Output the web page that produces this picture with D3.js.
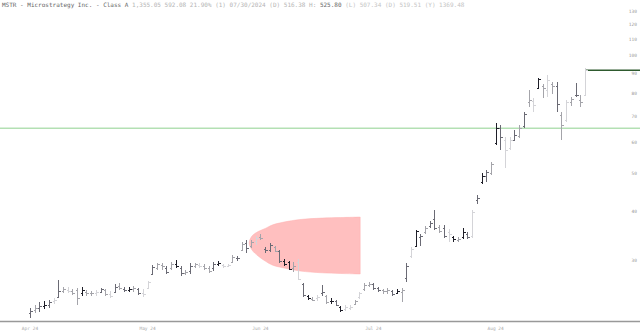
<!doctype html>
<html>
<head>
<meta charset="utf-8">
<style>
  body { margin: 0; background: #fff; }
  svg text { font-family: "DejaVu Sans Mono", monospace; }
</style>
</head>
<body>
<div id="vis"></div>
<script src="https://d3js.org/d3.v7.min.js"></script>
<script>
// OHLC bars, one per session
var opens = [21.97,22.36,22.62,22.88,23.02,23.57,24.13,25.00,25.15,25.00,
  25.15,24.71,24.85,24.71,24.71,24.85,25.15,24.56,24.85,25.75,
  25.30,25.15,25.30,25.30,24.71,25.44,27.63,28.62,29.13,28.62,
  28.62,29.30,28.62,27.79,28.12,28.96,29.13,28.96,28.62,28.62,
  29.30,29.13,28.96,29.65,30.36,31.82,33.16,32.58,33.55,34.34,
  32.01,31.82,32.39,31.64,29.82,29.65,28.62,29.65,26.05,24.28,
  23.85,23.99,24.71,24.28,23.57,23.57,22.75,22.49,22.62,23.16,
  24.13,25.30,25.90,26.05,25.44,25.15,25.00,25.00,24.71,24.85,
  26.99,30.72,32.58,34.34,35.37,36.64,38.18,36.43,36.21,35.37,
  34.34,33.75,34.34,34.96,34.55,42.70,47.47,49.17,50.05,59.71,
  65.20,60.77,57.98,60.77,62.21,65.98,75.99,76.44,82.51,83.48,
  81.55,84.47,83.48,70.39,68.35,75.99,79.19,76.89,79.19];
var highs = [22.62,23.02,23.43,23.57,23.71,23.99,26.67,25.59,25.59,25.30,
  25.44,25.59,25.15,25.00,25.15,25.44,25.30,25.00,26.05,26.20,
  25.59,25.59,25.75,25.44,25.30,26.51,29.13,29.47,29.47,28.96,
  29.65,30.00,28.96,28.29,29.47,29.47,29.47,29.30,28.96,29.65,
  29.82,29.30,29.30,30.90,30.72,33.35,33.75,33.75,34.55,34.96,
  32.39,33.16,32.58,31.82,30.18,29.82,29.65,30.18,26.20,24.42,
  24.13,24.42,25.90,24.42,23.99,23.71,22.88,23.02,23.02,23.71,
  24.85,26.20,26.36,26.20,25.59,25.30,25.44,25.15,25.30,25.44,
  29.47,32.39,35.79,34.96,36.64,37.73,40.26,36.86,36.86,36.00,
  34.55,34.34,36.21,35.37,40.26,43.97,50.05,50.94,53.39,67.17,
  66.37,61.85,61.85,64.45,66.37,71.65,81.55,77.80,87.51,84.47,
  89.07,85.47,85.47,71.65,76.89,78.26,84.97,79.19,92.82];
var lows = [21.33,21.97,22.10,22.49,22.62,23.16,24.13,24.71,24.71,24.42,
  23.02,24.28,24.28,24.28,24.28,24.71,24.28,23.99,24.71,25.15,
  24.85,24.85,24.85,24.42,24.13,25.30,27.63,28.29,28.29,27.63,
  28.29,28.62,27.31,27.47,27.63,28.62,28.62,28.29,27.79,28.12,
  28.96,28.62,28.79,29.47,29.82,31.64,31.27,32.20,32.77,33.75,
  31.27,31.45,31.45,29.47,28.96,28.29,27.96,26.67,24.13,23.71,
  23.57,23.57,24.28,23.16,23.16,22.88,22.10,22.23,22.36,23.02,
  23.85,25.00,25.59,25.15,24.85,24.56,24.56,24.28,24.56,23.43,
  26.36,30.36,32.39,32.58,34.96,36.21,35.79,35.16,34.14,33.35,
  33.35,33.35,33.94,33.94,34.14,41.70,46.91,47.47,49.46,59.01,
  57.30,51.54,57.30,60.41,61.49,65.20,73.78,71.65,82.51,77.80,
  78.26,79.66,71.65,60.77,67.55,74.22,78.26,73.78,79.19];
var closes = [22.23,22.62,22.88,23.02,23.43,23.71,25.00,25.30,25.00,24.71,
  23.99,25.15,24.71,24.71,24.85,25.30,24.56,24.28,25.59,25.44,
  25.15,25.30,25.44,24.71,24.56,26.36,28.79,29.30,28.96,27.96,
  29.30,28.96,27.79,27.96,28.96,29.30,28.96,28.62,28.12,29.30,
  29.47,28.96,29.13,30.54,30.36,32.96,32.20,33.35,34.14,34.14,
  31.82,32.77,31.64,29.82,29.30,28.45,28.96,26.83,24.42,23.99,
  23.71,24.13,24.85,23.43,23.57,23.02,22.36,22.75,22.75,23.57,
  24.71,25.90,26.05,25.44,25.15,25.00,25.15,24.56,25.00,25.15,
  28.96,32.01,35.58,34.55,36.21,37.29,36.21,35.58,34.55,34.96,
  33.94,33.94,35.37,34.34,39.79,43.20,49.17,50.34,52.77,65.20,
  61.85,57.30,60.77,62.58,65.20,70.81,76.89,74.66,86.99,82.51,
  86.49,83.48,75.10,66.37,75.99,77.34,79.19,75.99,91.73];
// volume class of each bar (0 light .. 3 heavy)
var shades = [2,1,2,3,2,0,2,1,0,1, 1,3,1,1,0,2,1,0,2,1, 2,3,1,2,0,0,2,1,1,2,
  1,3,2,1,2,1,0,1,1,2, 3,0,0,1,2,1,2,1,0,1, 2,2,1,2,3,3,1,0,2,3,
  1,0,2,1,3,2,3,0,0,1, 0,1,1,2,2,1,1,2,3,1, 2,0,3,2,1,2,2,1,2,0,
  3,1,3,2,0,2,3,2,1,3, 2,0,0,2,1,2,1,0,3,1, 0,1,2,1,0,1,2,1,0];

var yTicks = [30,40,50,60,70,80,90,100,110,120,130];
var xLabels = ['Apr 24','May 24','Jun 24','Jul 24','Aug 24'];
var xLabelAt = [0,25,49,73,99];

// projection cone: bar index, upper and lower bound
var coneIdx = [46.6,47.2,48.5,50.0,51.5,54.0,57.4,62.1,66.0,70.2];
var coneUpper = [33.16,34.55,35.47,36.11,36.86,37.51,38.07,38.40,38.52,38.63];
var coneLower = [33.16,31.82,30.72,29.82,29.13,28.62,28.12,27.82,27.71,27.63];

var supportLevel = 65.2;
var lastLevel = closes[closes.length - 1];

var W = 640, H = 336;
var svg = d3.select('#vis').append('svg').attr('width', W).attr('height', H);

var x = d3.scaleLinear().domain([0, opens.length - 1]).range([30, 585]);
var y = d3.scaleLog().domain([30, 130]).range([260, 11]);
var shadeColor = ['#d4d4d8', '#a4a4aa', '#6a6a74', '#1e1e28'];

// cone
var conePts = [];
for (var i = coneIdx.length - 1; i >= 0; i--) conePts.push([x(coneIdx[i]), y(coneUpper[i])]);
for (var j = 1; j < coneIdx.length; j++) conePts.push([x(coneIdx[j]), y(coneLower[j])]);
svg.append('path')
  .attr('d', d3.line().curve(d3.curveCatmullRom)(conePts) + 'Z')
  .style('fill', '#ffbfbf').style('stroke', '#ffb0b0').style('stroke-width', 0.5);

// levels
svg.append('line').attr('x1', 0).attr('x2', W).attr('y1', y(supportLevel)).attr('y2', y(supportLevel))
  .style('stroke', '#8fd18f').style('stroke-width', 1);
svg.append('line').attr('x1', x(opens.length - 1)).attr('x2', W).attr('y1', y(lastLevel)).attr('y2', y(lastLevel))
  .style('stroke', '#2e5a2e').style('stroke-width', 1.5);

// bars
var g = svg.append('g').style('shape-rendering', 'crispEdges');
opens.forEach(function(o, i) {
  var cx = Math.round(x(i)) + 0.5, col = shadeColor[shades[i]];
  g.append('line').attr('x1', cx).attr('x2', cx).attr('y1', y(highs[i])).attr('y2', y(lows[i])).style('stroke', col);
  g.append('line').attr('x1', cx - 2).attr('x2', cx).attr('y1', Math.round(y(o)) + 0.5).attr('y2', Math.round(y(o)) + 0.5).style('stroke', col);
  g.append('line').attr('x1', cx).attr('x2', cx + 2).attr('y1', Math.round(y(closes[i])) + 0.5).attr('y2', Math.round(y(closes[i])) + 0.5).style('stroke', col);
});

// bottom axis
svg.append('line').attr('x1', 0).attr('x2', W).attr('y1', 321.5).attr('y2', 321.5).style('stroke', '#999').style('stroke-width', 1.5);
svg.append('g').selectAll('text').data(xLabels).join('text')
  .attr('x', function(d, i) { return x(xLabelAt[i]); }).attr('y', 330)
  .style('text-anchor', 'middle').style('font-size', '4.5px').style('fill', '#aaa')
  .text(function(d) { return d; });

// right axis labels
svg.append('g').selectAll('text').data(yTicks).join('text')
  .attr('x', 637).attr('y', function(d) { return y(d) + 1.5; })
  .style('text-anchor', 'end').style('font-size', '4.5px').style('fill', '#999')
  .text(function(d) { return d; });

// header
var t = svg.append('text').attr('x', 2).attr('y', 7).style('font-size', '6px');
t.append('tspan').text('MSTR - Microstrategy Inc. - Class A').style('fill', '#666');
t.append('tspan').text(' 1,355.05 592.08 21.90% (1) 07/30/2024 (D)   516.38 H:').style('fill', '#b4b4b4');
t.append('tspan').text(' 525.80').style('fill', '#666');
t.append('tspan').text(' (L)   507.34 (D)  519.51 (Y)  1369.48').style('fill', '#c4c4c4');
</script>
</body>
</html>
